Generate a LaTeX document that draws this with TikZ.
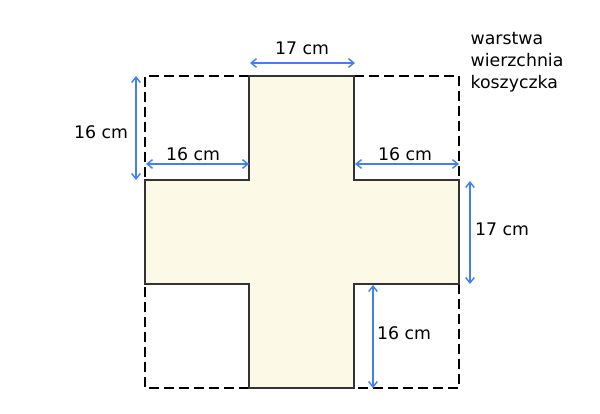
\documentclass[tikz,border=0pt]{standalone}
\usepackage{fontspec}
\setmainfont{DejaVu Sans}
\usetikzlibrary{
  arrows.meta,
  positioning,
}
\definecolor{dimblue}{RGB}{64,128,240}
\definecolor{crossfill}{RGB}{252,249,230}
\tikzset{
  dim/.style = {
      {Straight Barb[length=4pt,width=6.5pt]}-{Straight Barb[length=4pt,width=6.5pt]},
      draw=dimblue,
      line width=1.1pt,
    },
  edge/.style = {
      draw=black,
      line width=1.6pt,
      dash pattern=on 7.5pt off 3.75pt,
    },
  cross/.style = {
      draw=black!80,
      fill=crossfill,
      line width=0.8pt,
    },
  lbl/.style = {
      font=\fontsize{13}{16.5}\selectfont,
      inner sep=1pt,
    },
}

\begin{document}
\begin{tikzpicture}[x=0.75pt, y=-0.75pt]
    \useasboundingbox (0,0) rectangle (600,414);

    % corners of the cross
    \coordinate (a1) at (249,76);  \coordinate (a2) at (354,76);
    \coordinate (b1) at (145,180); \coordinate (b2) at (249,180);
    \coordinate (b3) at (354,180); \coordinate (b4) at (459,180);
    \coordinate (c1) at (145,284); \coordinate (c2) at (249,284);
    \coordinate (c3) at (354,284); \coordinate (c4) at (459,284);
    \coordinate (d1) at (249,388); \coordinate (d2) at (354,388);

    % dashed square round the cross
    \draw[edge] (a1) -- (145,76) -- (b1);
    \draw[edge] (a2) -- (459,76) -- (b4);
    \draw[edge] (c4) -- (459,388) -- (d2);
    \draw[edge] (d1) -- (145,388) -- (c1);

    \draw[cross] (a1) -- (a2) -- (b3) -- (b4) -- (c4) -- (c3) -- (d2) -- (d1) -- (c2) -- (c1) -- (b1) -- (b2) -- cycle;

    % dimension lines
    \coordinate (t1) at (250,63); \coordinate (t2) at (355,63);
    \draw[dim] (t1) -- (t2);
    \node[lbl] (tl) at (302,48) {17 cm};

    \coordinate (l1) at (136,76); \coordinate (l2) at (136,180);
    \draw[dim] (l1) -- (l2);
    \node[lbl] (ll) at (101,132) {16 cm};

    \coordinate (h1) at (146,164); \coordinate (h2) at (249,164);
    \draw[dim] (h1) -- (h2);
    \node[lbl] (hl) at (193,154) {16 cm};

    \coordinate (k1) at (355,164); \coordinate (k2) at (459,164);
    \draw[dim] (k1) -- (k2);
    \node[lbl] (kl) at (405,154) {16 cm};

    \coordinate (r1) at (470,181); \coordinate (r2) at (470,284);
    \draw[dim] (r1) -- (r2);
    \node[lbl] (rl) at (502,229) {17 cm};

    \coordinate (u1) at (373,285); \coordinate (u2) at (373,388);
    \draw[dim] (u1) -- (u2);
    \node[lbl] (ul) at (404,333) {16 cm};

    \node[lbl, anchor=west, align=left] (layer) at (469,62) {warstwa\\wierzchnia\\koszyczka};
\end{tikzpicture}
\end{document}
